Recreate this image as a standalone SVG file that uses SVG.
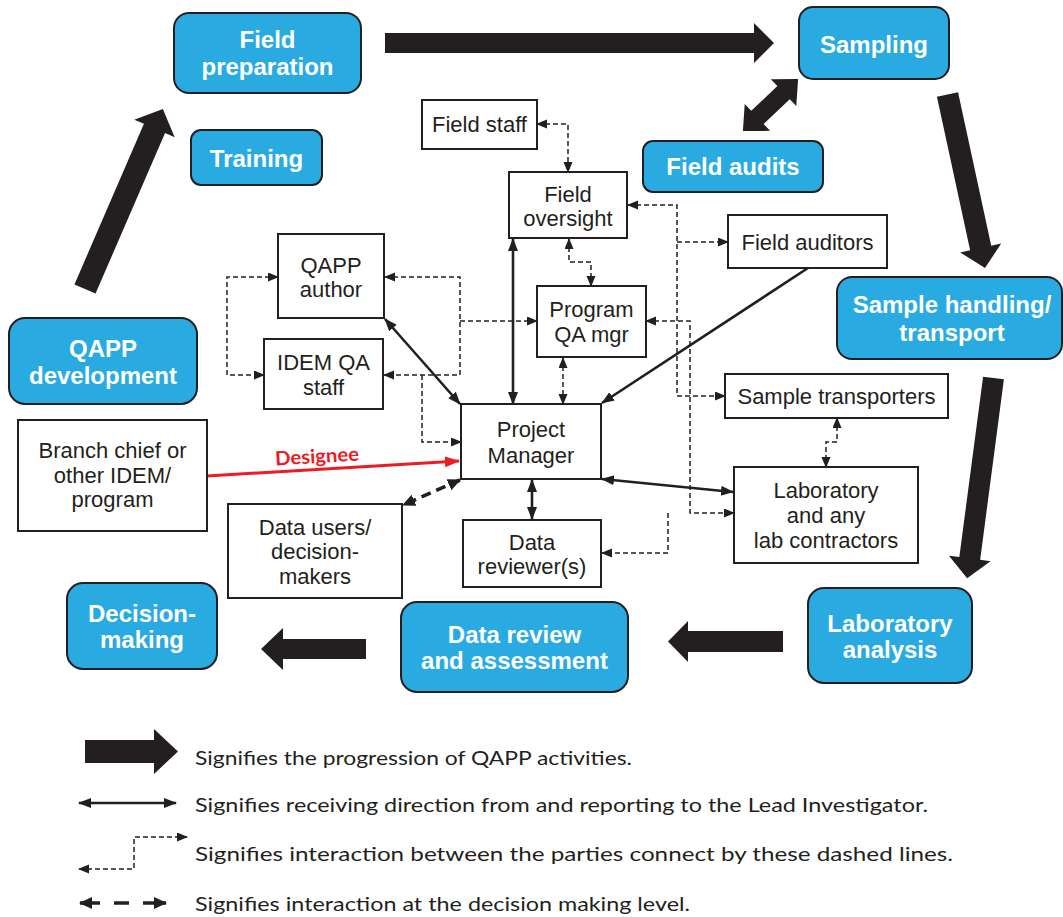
<svg xmlns="http://www.w3.org/2000/svg" width="1063" height="917" viewBox="0 0 1063 917">
<style>
.blue{fill:#29ABE2;stroke:#231F20;stroke-width:2}
.box{fill:#fff;stroke:#231F20;stroke-width:2}
.bt{font-family:"Liberation Sans",Arial,sans-serif;font-weight:bold;font-size:24px;fill:#fff;text-anchor:middle}
.nt{font-family:"Liberation Sans",Arial,sans-serif;font-size:22px;fill:#231F20;text-anchor:middle}
.lt{font-family:Lato,"Open Sans",sans-serif;font-size:20px;fill:#231F20}
.big{fill:#231F20}
.solid{fill:none;stroke:#231F20;stroke-width:2.6}
.dash{fill:none;stroke:#231F20;stroke-width:1.5;stroke-dasharray:5 3}
.tdash{fill:none;stroke:#231F20;stroke-width:3.6;stroke-dasharray:10 6}
.red{fill:none;stroke:#ED1C24;stroke-width:3}
</style>
<defs>
<marker id="ms" markerUnits="userSpaceOnUse" markerWidth="14" markerHeight="12" refX="12" refY="5" orient="auto-start-reverse"><path d="M0,0 L13,5 L0,10 z" fill="#231F20"/></marker>
<marker id="md" markerUnits="userSpaceOnUse" markerWidth="12" markerHeight="10" refX="10" refY="4.5" orient="auto-start-reverse"><path d="M0,0 L11,4.5 L0,9 z" fill="#231F20"/></marker>
<marker id="mt" markerUnits="userSpaceOnUse" markerWidth="14" markerHeight="13" refX="12" refY="6" orient="auto-start-reverse"><path d="M0,0 L13,6 L0,12 z" fill="#231F20"/></marker>
<marker id="mr" markerUnits="userSpaceOnUse" markerWidth="16" markerHeight="12" refX="14" refY="5.5" orient="auto"><path d="M0,0 L15,5.5 L0,11 z" fill="#ED1C24"/></marker>
</defs>
<rect width="1063" height="917" fill="#fff"/>

<g id="progression">
<polygon class="big" points="385,33 754,33 754,23 774,43 754,63 754,53 385,53"/>
<polygon class="big" points="783,631 688,631 688,621 668,641.5 688,662 688,652 783,652"/>
<polygon class="big" points="366,639 283,639 283,628 261,649 283,670 283,659 366,659"/>
<polygon class="big" transform="translate(85,289) rotate(-66.6)" points="0,-11.5 175,-11.5 175,-22 196,0 175,22 175,11.5 0,11.5"/>
<polygon class="big" transform="translate(947.5,94.5) rotate(77.8)" points="0,-10.8 157,-10.8 157,-21 177.5,0 157,21 157,10.8 0,10.8"/>
<polygon class="big" transform="translate(993.5,378) rotate(97.5)" points="0,-10.5 182,-10.5 182,-21 202,0 182,21 182,10.5 0,10.5"/>
<polygon class="big" transform="translate(770.5,105) rotate(-43.4)" points="38,0 18,-18.5 18,-9 -18,-9 -18,-18.5 -38,0 -18,18.5 -18,9 18,9 18,18.5"/>
</g>

<g id="connectors">
<path class="solid" d="M385,319 L460,404" marker-start="url(#ms)" marker-end="url(#ms)"/>
<path class="solid" d="M513,239 L513,404" marker-start="url(#ms)" marker-end="url(#ms)"/>
<path class="solid" d="M532,480 L532,519" marker-start="url(#ms)" marker-end="url(#ms)"/>
<path class="solid" d="M602,479 L733,492" marker-start="url(#ms)" marker-end="url(#ms)"/>
<path class="solid" d="M808,268 L602,403" marker-end="url(#ms)"/>
<path class="tdash" d="M460,480 L403,505" marker-start="url(#mt)" marker-end="url(#mt)"/>
<path class="red" d="M207,476 L459,461" marker-end="url(#mr)"/>
<text transform="rotate(-3.4 317 457)" x="275" y="463" font-family="Lato,'Open Sans',sans-serif" font-weight="bold" font-size="19.5" fill="#ED1C24" textLength="84" lengthAdjust="spacingAndGlyphs">Designee</text>

<path class="dash" d="M537,124 H568 V172" marker-start="url(#md)" marker-end="url(#md)"/>
<path class="dash" d="M569,239 V262 H591 V286" marker-start="url(#md)" marker-end="url(#md)"/>
<path class="dash" d="M563,358 V404" marker-start="url(#md)" marker-end="url(#md)"/>
<path class="dash" d="M628,205 H677 V396 H725" marker-start="url(#md)" marker-end="url(#md)"/>
<path class="dash" d="M677,242 H728" marker-end="url(#md)"/>
<path class="dash" d="M646,321 H690 V513 H734" marker-start="url(#md)" marker-end="url(#md)"/>
<path class="dash" d="M668,513 V553 H602" marker-end="url(#md)"/>
<path class="dash" d="M278,277 H227 V375 H264" marker-start="url(#md)" marker-end="url(#md)"/>
<path class="dash" d="M385,277 H460 V375 H384" marker-start="url(#md)" marker-end="url(#md)"/>
<path class="dash" d="M460,321 H537" marker-end="url(#md)"/>
<path class="dash" d="M422,375 V442 H461" marker-end="url(#md)"/>
<path class="dash" d="M837,418 V442 H826 V467" marker-start="url(#md)" marker-end="url(#md)"/>
</g>

<g id="field-preparation"><rect class="blue" x="174" y="13" width="187" height="80" rx="15"/><text class="bt" x="267.5" y="48">Field</text><text class="bt" x="267.5" y="75">preparation</text></g>
<g id="training"><rect class="blue" x="191" y="130" width="131" height="55" rx="10"/><text class="bt" x="256.5" y="167">Training</text></g>
<g id="sampling"><rect class="blue" x="799" y="7" width="150" height="72" rx="14"/><text class="bt" x="874" y="53">Sampling</text></g>
<g id="field-audits"><rect class="blue" x="643" y="141" width="180" height="51" rx="10"/><text class="bt" x="733" y="175">Field audits</text></g>
<g id="sample-handling"><rect class="blue" x="837" y="277" width="225" height="82" rx="15"/><text class="bt" x="952" y="313">Sample handling/</text><text class="bt" x="952" y="341">transport</text></g>
<g id="qapp-development"><rect class="blue" x="9" y="318" width="188" height="86" rx="16"/><text class="bt" x="103" y="357">QAPP</text><text class="bt" x="103" y="384">development</text></g>
<g id="decision-making"><rect class="blue" x="67" y="583" width="150" height="86" rx="16"/><text class="bt" x="142" y="622">Decision-</text><text class="bt" x="142" y="648">making</text></g>
<g id="data-review"><rect class="blue" x="401" y="602" width="227" height="90" rx="16"/><text class="bt" x="514.5" y="643">Data review</text><text class="bt" x="514.5" y="669">and assessment</text></g>
<g id="laboratory-analysis"><rect class="blue" x="808" y="588" width="164" height="95" rx="16"/><text class="bt" x="890" y="632">Laboratory</text><text class="bt" x="890" y="658">analysis</text></g>

<g id="field-staff"><rect class="box" x="422" y="100" width="115" height="49"/><text class="nt" x="479.5" y="132">Field staff</text></g>
<g id="field-oversight"><rect class="box" x="509" y="172" width="118" height="66"/><text class="nt" x="568" y="202">Field</text><text class="nt" x="568" y="226">oversight</text></g>
<g id="program-qa-mgr"><rect class="box" x="537" y="286" width="109" height="71"/><text class="nt" x="591.5" y="317">Program</text><text class="nt" x="591.5" y="342">QA mgr</text></g>
<g id="qapp-author"><rect class="box" x="278" y="234" width="106" height="84"/><text class="nt" x="331" y="273">QAPP</text><text class="nt" x="331" y="297">author</text></g>
<g id="idem-qa-staff"><rect class="box" x="264" y="339" width="119" height="70"/><text class="nt" x="323.5" y="370">IDEM QA</text><text class="nt" x="323.5" y="395">staff</text></g>
<g id="project-manager"><rect class="box" x="461" y="404" width="140" height="75"/><text class="nt" x="531" y="437">Project</text><text class="nt" x="531" y="463">Manager</text></g>
<g id="data-reviewers"><rect class="box" x="463" y="520" width="138" height="67"/><text class="nt" x="532" y="550">Data</text><text class="nt" x="532" y="574">reviewer(s)</text></g>
<g id="data-users"><rect class="box" x="228" y="504" width="174" height="94"/><text class="nt" x="315" y="535">Data users/</text><text class="nt" x="315" y="559">decision-</text><text class="nt" x="315" y="584">makers</text></g>
<g id="branch-chief"><rect class="box" x="18" y="420" width="189" height="111"/><text class="nt" x="112.5" y="458">Branch chief or</text><text class="nt" x="112.5" y="483">other IDEM/</text><text class="nt" x="112.5" y="507">program</text></g>
<g id="field-auditors"><rect class="box" x="728" y="215" width="159" height="53"/><text class="nt" x="807.5" y="250">Field auditors</text></g>
<g id="sample-transporters"><rect class="box" x="725" y="374" width="223" height="44"/><text class="nt" x="836.5" y="404">Sample transporters</text></g>
<g id="laboratory"><rect class="box" x="734" y="467" width="184" height="96"/><text class="nt" x="826" y="498">Laboratory</text><text class="nt" x="826" y="523">and any</text><text class="nt" x="826" y="548">lab contractors</text></g>

<g id="legend">
<polygon class="big" points="85,740 154,740 154,729 178,751.5 154,774 154,763 85,763"/>
<text class="lt" x="195" y="765" textLength="437" lengthAdjust="spacingAndGlyphs">Signifies the progression of QAPP activities.</text>
<path class="solid" d="M79,803 H176" marker-start="url(#ms)" marker-end="url(#ms)"/>
<text class="lt" x="195" y="812" textLength="733" lengthAdjust="spacingAndGlyphs">Signifies receiving direction from and reporting to the Lead Investigator.</text>
<path class="dash" d="M79,869 H134 V837 H187" marker-start="url(#md)" marker-end="url(#md)"/>
<text class="lt" x="195" y="861" textLength="758" lengthAdjust="spacingAndGlyphs">Signifies interaction between the parties connect by these dashed lines.</text>
<path d="M80,903 H166" fill="none" stroke="#231F20" stroke-width="3.6" stroke-dasharray="20 14 15 14 23" marker-start="url(#mt)" marker-end="url(#mt)"/>
<text class="lt" x="195" y="911" textLength="495" lengthAdjust="spacingAndGlyphs">Signifies interaction at the decision making level.</text>
</g>
</svg>
